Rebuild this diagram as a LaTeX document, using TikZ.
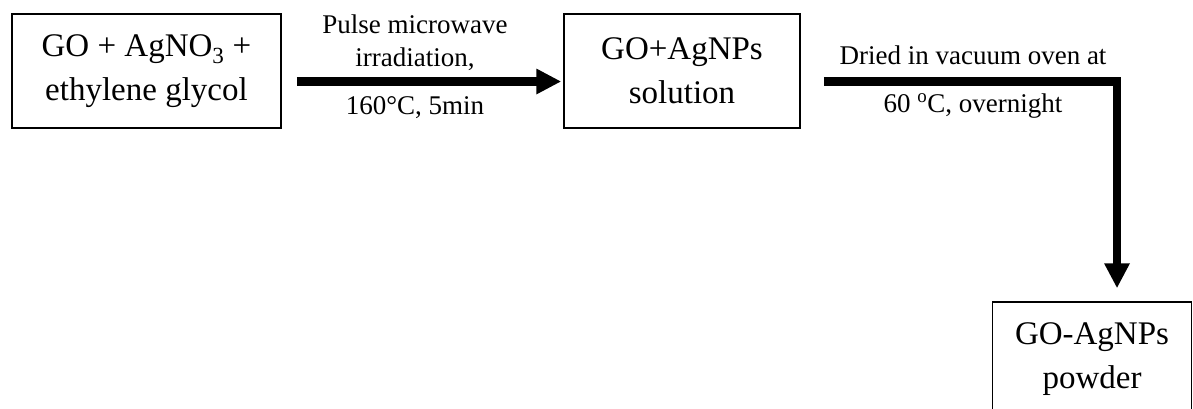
\documentclass[tikz,border=0pt]{standalone}
\usepackage{fontspec}
\setmainfont{Liberation Serif}
\usetikzlibrary{arrows.meta}
\begin{document}
\begin{tikzpicture}
	[x=1pt,y=-1pt,
	every node/.style={inner sep=0pt,align=center},
	stage/.style={draw,line width=1.5pt,minimum height=114pt,font=\fontsize{33}{44}\selectfont},
	cond/.style={anchor=base,font=\fontsize{27}{33}\selectfont},
	flow/.style={line width=8.5pt,-{Triangle[length=25pt,width=24pt]}}]
	\useasboundingbox (0,0) rectangle (1193,408);
	% stages
	\node[stage,minimum width=269pt] (mix) at (146.5,71) {GO + AgNO\textsubscript{3} +\\ethylene glycol};
	\node[stage,minimum width=236pt] (sol) at (682,71) {GO+AgNPs\\solution};
	\node[stage,minimum width=199pt] (pow) at (1092,359) {GO-AgNPs\\powder};
	% conditions
	\node[cond] (mw1) at (415,33) {Pulse microwave};
	\node[cond] (mw2) at (415,66) {irradiation,};
	\node[cond] (mw3) at (415,114) {160°C, 5min};
	\node[cond] (dry1) at (973,64) {Dried in vacuum oven at};
	\node[cond] (dry2) at (973,112) {60 \textsuperscript{o}C, overnight};
	% arrows
	\coordinate (a1) at ([shift={(15,10.5)}]mix.east);
	\coordinate (b1) at ([shift={(-2,10.5)}]sol.west);
	\coordinate (a2) at ([shift={(23,10.5)}]sol.east);
	\coordinate (b2) at ([shift={(25,-13)}]pow.north);
	\draw[flow] (a1) -- (b1);
	\draw[flow] (a2) -| (b2);
\end{tikzpicture}
\end{document}
